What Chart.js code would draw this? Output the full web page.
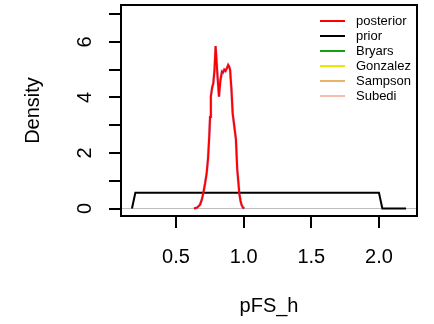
<!DOCTYPE html>
<html>
<head>
<meta charset="utf-8">
<script src="https://cdn.jsdelivr.net/npm/chart.js@4.4.1/dist/chart.umd.min.js"></script>
<style>
  html, body { margin: 0; padding: 0; background: #ffffff; }
  #wrap { width: 434px; height: 324px; }
</style>
</head>
<body>
<div id="wrap"><canvas id="densityChart" width="434" height="324"></canvas></div>
<script>
/* ================= DATA ================= */
var priorX = [0.175, 0.2, 2.0, 2.025, 2.2];
var priorY = [0, 0.57, 0.57, 0, 0];

var postX = [0.633, 0.655, 0.677, 0.69, 0.702, 0.715, 0.727, 0.737, 0.746, 0.752, 0.758, 0.767, 0.776, 0.785,
             0.793, 0.800, 0.808, 0.818, 0.828, 0.840, 0.848, 0.857, 0.866, 0.876, 0.886, 0.894, 0.900, 0.910,
             0.919, 0.930, 0.943, 0.953, 0.962, 0.968, 0.977, 0.985, 0.995, 1.005];
var postY = [0, 0.03, 0.13, 0.3, 0.55, 0.9, 1.27, 1.8, 2.59, 3.3, 4.03, 4.35, 4.51, 5.0,
             5.85, 5.3, 4.7, 4.03, 4.6, 4.93, 4.9, 5.0, 4.95, 5.05, 5.17, 5.1, 4.99, 4.3,
             3.43, 3.0, 2.5, 1.4, 0.9, 0.55, 0.28, 0.13, 0.03, 0];

var xTicks = [0.5, 1.0, 1.5, 2.0];
var yTicks = [0, 1, 2, 3, 4, 5, 6, 7];
var yLabels = [0, 2, 4, 6];

var legendNames = ["posterior", "prior", "Bryars", "Gonzalez", "Sampson", "Subedi"];
var legendColors = ["#ff0000", "#000000", "#14a014", "#e8e800", "#e8b466", "#f4bcaa"];

/* ================= HELPERS ================= */
function toPoints(xs, ys) {
    return xs.map(function (x, i) { return { x: x, y: ys[i] }; });
}

var rStyle = {
    id: "rStyle",
    beforeDatasetsDraw: function (chart) {
        var ctx = chart.ctx, a = chart.chartArea, y0 = chart.scales.y.getPixelForValue(0);
        ctx.save();
        ctx.strokeStyle = "#bebebe";
        ctx.lineWidth = 1;
        ctx.beginPath();
        ctx.moveTo(a.left, y0);
        ctx.lineTo(a.right, y0);
        ctx.stroke();
        ctx.restore();
    },
    afterDraw: function (chart) {
        var ctx = chart.ctx, a = chart.chartArea, ys = chart.scales.y;
        ctx.save();
        // box
        ctx.strokeStyle = "#000";
        ctx.lineWidth = 2;
        ctx.strokeRect(a.left, a.top, a.right - a.left, a.bottom - a.top);
        // rotated y tick labels
        ctx.fillStyle = "#000";
        ctx.font = "20px 'Liberation Sans', Arial, sans-serif";
        ctx.textAlign = "center";
        ctx.textBaseline = "middle";
        yLabels.forEach(function (v) {
            ctx.save();
            ctx.translate(85, ys.getPixelForValue(v));
            ctx.rotate(-Math.PI / 2);
            ctx.fillText(String(v), 0, 0);
            ctx.restore();
        });
        // legend
        ctx.font = "13px 'Liberation Sans', Arial, sans-serif";
        ctx.textAlign = "left";
        legendNames.forEach(function (name, i) {
            var y = 21 + i * 15;
            ctx.strokeStyle = legendColors[i];
            ctx.lineWidth = 2;
            ctx.beginPath();
            ctx.moveTo(320, y);
            ctx.lineTo(345, y);
            ctx.stroke();
            ctx.fillStyle = "#000";
            ctx.fillText(name, 356, y);
        });
        ctx.restore();
    }
};

/* ================= CHART ================= */
// first dataset is drawn on top
new Chart(document.getElementById("densityChart"), {
    type: "line",
    data: {
        datasets: [
            {
                label: "posterior",
                data: toPoints(postX, postY),
                borderColor: "#ff0000",
                borderWidth: 2
            },
            {
                label: "under",
                data: toPoints(postX, postY),
                borderColor: "rgba(120,70,180,0.35)",
                borderWidth: 2.8
            },
            {
                label: "prior",
                data: toPoints(priorX, priorY),
                borderColor: "#000000",
                borderWidth: 2
            }
        ]
    },
    options: {
        responsive: false,
        animation: false,
        events: [],
        elements: { point: { radius: 0 }, line: { tension: 0 } },
        layout: { padding: { left: 0, right: 17, top: 5, bottom: 0 } },
        plugins: { legend: { display: false }, tooltip: { enabled: false } },
        scales: {
            x: {
                type: "linear",
                min: 0.094,
                max: 2.281,
                afterBuildTicks: function (scale) {
                    scale.ticks = xTicks.map(function (v) { return { value: v }; });
                },
                afterFit: function (scale) { scale.height = 108; },
                border: { display: false },
                grid: { drawOnChartArea: false, drawTicks: true, tickLength: 12, color: "#000", lineWidth: 2 },
                ticks: {
                    color: "#000",
                    font: { family: "'Liberation Sans', Arial, sans-serif", size: 20 },
                    padding: 17,
                    maxRotation: 0,
                    callback: function (v) { return Number(v).toFixed(1); }
                },
                title: {
                    display: true,
                    text: "pFS_h",
                    color: "#000",
                    font: { family: "'Liberation Sans', Arial, sans-serif", size: 20 },
                    padding: { top: 0, bottom: 6 }
                }
            },
            y: {
                type: "linear",
                min: -0.27,
                max: 7.33,
                afterBuildTicks: function (scale) {
                    scale.ticks = yTicks.map(function (v) { return { value: v }; });
                },
                afterFit: function (scale) { scale.width = 121; },
                border: { display: false },
                grid: { drawOnChartArea: false, drawTicks: true, tickLength: 12, color: "#000", lineWidth: 2 },
                ticks: { display: false },
                title: {
                    display: true,
                    text: "Density",
                    color: "#000",
                    font: { family: "'Liberation Sans', Arial, sans-serif", size: 20 },
                    padding: { top: 21, bottom: 0 }
                }
            }
        }
    },
    plugins: [rStyle]
});
</script>
</body>
</html>
